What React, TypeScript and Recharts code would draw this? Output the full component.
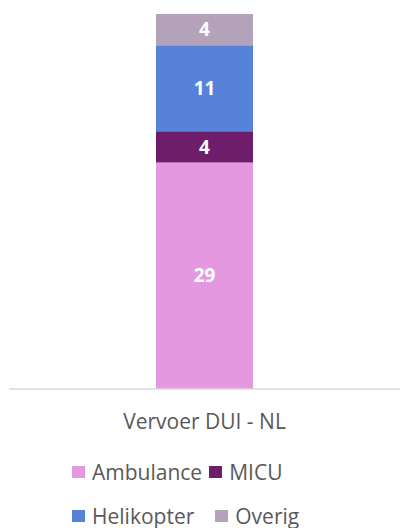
import React from "react"
import { Bar, BarChart, LabelList, XAxis, YAxis } from "recharts"

// categorie (één staaf)
const categories = ["Vervoer DUI - NL"]

// series, van onder naar boven gestapeld
const seriesNames = ["Ambulance", "MICU", "Helikopter", "Overig"]
const seriesKeys = ["ambulance", "micu", "helikopter", "overig"]
const ambulance = [29]
const micu = [4]
const helikopter = [11]
const overig = [4]

const seriesColors = ["#E398DF", "#6D1D6A", "#5683D9", "#B4A2BA"]

const FONT = "'Open Sans', 'Noto Sans', sans-serif"

const data = categories.map((name, i) => ({
  name,
  ambulance: ambulance[i],
  micu: micu[i],
  helikopter: helikopter[i],
  overig: overig[i],
}))

// legenda in twee rijen, zoals in Excel
const legendRows = [
  [0, 1],
  [2, 3],
]

export default function App() {
  return (
    <div style={{ position: "absolute", left: 0, top: 0, width: 400, height: 528, background: "#fff", fontFamily: FONT }}>
      <BarChart
        width={400}
        height={528}
        data={data}
        margin={{ top: 14, right: 0, left: 9, bottom: 0 }}
        barCategoryGap={0}
      >
        <YAxis hide domain={[0, 48]} />
        <XAxis
          dataKey="name"
          height={139}
          axisLine={{ stroke: "#D9D9D9", strokeWidth: 1.5 }}
          tickLine={false}
          tickSize={0}
          tickMargin={25}
          tick={{ fill: "#595959", fontSize: 21, fontFamily: FONT }}
        />
        {seriesKeys.map((key, i) => (
          <Bar
            key={key}
            dataKey={key}
            name={seriesNames[i]}
            stackId="a"
            fill={seriesColors[i]}
            barSize={97}
            isAnimationActive={false}
          >
            <LabelList
              dataKey={key}
              position="center"
              fill="#FFFFFF"
              fontSize={19}
              fontWeight="bold"
              fontFamily={FONT}
            />
          </Bar>
        ))}
      </BarChart>
      <div style={{ position: "absolute", left: 72, top: 450, color: "#595959", fontSize: 21 }}>
        {legendRows.map((row, r) => (
          <div key={r} style={{ display: "flex", alignItems: "center", height: 44 }}>
            {row.map((idx, j) => (
              <div key={idx} style={{ display: "flex", alignItems: "center", marginLeft: j > 0 ? (r === 0 ? 7 : 21) : 0 }}>
                <span style={{ display: "inline-block", width: 13, height: 12, background: seriesColors[idx], marginRight: 7 }} />
                <span>{seriesNames[idx]}</span>
              </div>
            ))}
          </div>
        ))}
      </div>
    </div>
  )
}
